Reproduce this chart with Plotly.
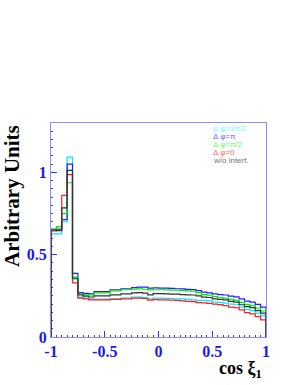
import plotly.graph_objects as go

edges = [-1 + 0.05 * i for i in range(41)]

blue = [0.650, 0.655, 0.713, 1.050, 0.386,
        0.270, 0.265, 0.262, 0.276, 0.276, 0.276, 0.287, 0.287, 0.293, 0.293,
        0.300, 0.303, 0.303, 0.297, 0.298, 0.297, 0.297, 0.295, 0.293, 0.292,
        0.289, 0.288, 0.282, 0.272, 0.268, 0.262, 0.258, 0.255, 0.248, 0.244,
        0.232, 0.218, 0.212, 0.198, 0.182]
green = [0.657, 0.670, 0.750, 0.937, 0.364,
         0.262, 0.256, 0.256, 0.268, 0.268, 0.268, 0.280, 0.280, 0.287, 0.287,
         0.291, 0.292, 0.290, 0.286, 0.287, 0.287, 0.286, 0.285, 0.284, 0.282,
         0.280, 0.278, 0.270, 0.258, 0.254, 0.245, 0.240, 0.236, 0.228, 0.222,
         0.210, 0.198, 0.190, 0.175, 0.158]
black = [0.650, 0.646, 0.785, 1.012, 0.357,
         0.256, 0.248, 0.243, 0.250, 0.250, 0.250, 0.256, 0.256, 0.262, 0.262,
         0.268, 0.270, 0.266, 0.256, 0.264, 0.264, 0.262, 0.260, 0.260, 0.258,
         0.256, 0.255, 0.250, 0.242, 0.240, 0.232, 0.228, 0.225, 0.216, 0.212,
         0.196, 0.184, 0.178, 0.160, 0.145]
cyan = [0.626, 0.626, 0.700, 1.093, 0.352,
        0.242, 0.236, 0.231, 0.230, 0.230, 0.230, 0.232, 0.232, 0.236, 0.236,
        0.242, 0.242, 0.240, 0.232, 0.236, 0.236, 0.235, 0.234, 0.232, 0.231,
        0.228, 0.226, 0.223, 0.222, 0.219, 0.212, 0.210, 0.206, 0.200, 0.196,
        0.182, 0.168, 0.160, 0.145, 0.130]
red = [0.645, 0.650, 0.860, 0.986, 0.329,
       0.236, 0.232, 0.226, 0.226, 0.226, 0.226, 0.228, 0.228, 0.232, 0.232,
       0.236, 0.236, 0.234, 0.224, 0.227, 0.226, 0.225, 0.224, 0.222, 0.220,
       0.217, 0.215, 0.209, 0.207, 0.204, 0.200, 0.197, 0.190, 0.182, 0.178,
       0.165, 0.148, 0.140, 0.124, 0.104]

labels = ["Δ φ=3π/2", "Δ φ=π", "Δ φ=π/2", "Δ φ=0", "w/o interf."]
legend_colors = ["#66ffff", "#6666ff", "#66ff66", "#ff6666", "#777777"]

series = [(cyan, "#00e8ff"), (blue, "#2020ff"), (green, "#00ee00"),
          (red, "#ff2020"), (black, "#333333")]

fig = go.Figure()
for vals, col in series:
    xs = [edges[0]] + edges[:40] + [edges[40]]
    ys = [0] + vals + [0]
    fig.add_trace(go.Scatter(x=xs, y=ys, mode="lines", line_shape="hv",
                             line=dict(color=col, width=1.2), showlegend=False,
                             hoverinfo="skip"))

W, H = 298, 385
L, T = 51, 123
pw, ph = 215, 214
R = W - L - pw
B = H - T - ph

def px_x(p):
    return (p - L) / pw

def px_y(p):
    return (T + ph - p) / ph

for i, (lab, col) in enumerate(zip(labels, legend_colors)):
    py = [128.5, 136.5, 144.5, 152.5, 160.5][i]
    fig.add_annotation(x=px_x(212), y=px_y(py), xref="paper", yref="paper",
                       text=lab, showarrow=False, xanchor="left", yanchor="middle",
                       borderpad=0,
                       font=dict(family="Liberation Sans", size=8, color=col))

fig.add_annotation(x=px_x(12), y=1, xref="paper", yref="paper",
                   text="<b>Arbitrary Units</b>", textangle=-90, showarrow=False,
                   xanchor="center", yanchor="top",
                   font=dict(family="Liberation Serif", size=21, color="black"))
fig.add_annotation(x=px_x(264), y=px_y(369), xref="paper", yref="paper",
                   text="<b>cos ξ<sub>1</sub></b>", showarrow=False,
                   xanchor="right", yanchor="middle",
                   font=dict(family="Liberation Serif", size=18, color="black"))

axis_common = dict(showline=True, mirror=True, linecolor="#8c8cff", linewidth=1,
                   ticks="inside", tickcolor="#3333ff", showgrid=False, zeroline=False,
                   tickfont=dict(family="Liberation Serif", size=16, color="#1a1aee",
                                 weight="bold"))

fig.update_xaxes(range=[-1, 1], tickvals=[-1, -0.5, 0, 0.5, 1],
                 ticktext=["-1", "-0.5", "0", "0.5", "1"], ticklen=6,
                 minor=dict(dtick=0.05, tick0=-1, ticklen=2, ticks="inside",
                            tickcolor="#3333ff"),
                 **axis_common)
fig.update_yaxes(range=[0, 1.30], tickvals=[0, 0.5, 1], ticktext=["0", "0.5", "1"],
                 ticklen=6,
                 minor=dict(dtick=0.05, tick0=0, ticklen=2, ticks="inside",
                            tickcolor="#3333ff"),
                 **axis_common)

fig.update_layout(width=W, height=H, margin=dict(l=L, r=R, t=T, b=B),
                  paper_bgcolor="white", plot_bgcolor="white")

fig.write_html("out.html", config={"displayModeBar": False},
               post_script="document.body.style.margin='0px';document.body.style.overflow='hidden';")
